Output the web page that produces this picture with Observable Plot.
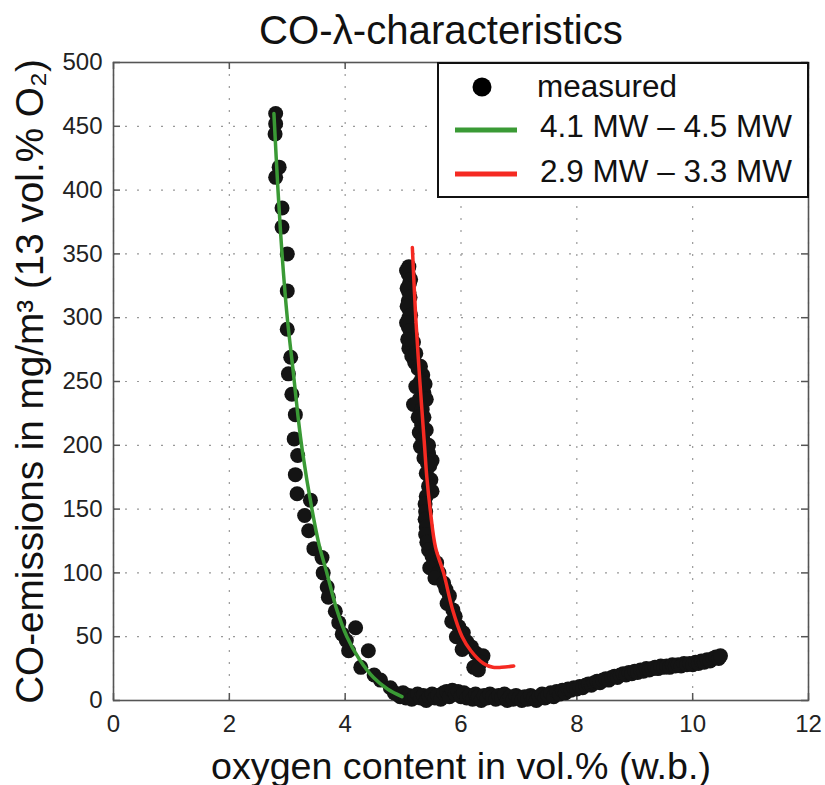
<!DOCTYPE html>
<html>
<head>
<meta charset="utf-8">
<script src="https://cdn.jsdelivr.net/npm/d3@7"></script>
<script src="https://cdn.jsdelivr.net/npm/@observablehq/plot@0.6"></script>
<style>
  html, body { margin: 0; padding: 0; background: #fff; }
  #chart { width: 825px; height: 785px; }
  svg { font-family: "Liberation Sans", Arial, sans-serif; }
</style>
</head>
<body>
<div id="chart"></div>
<script>
// ---- data ----
const xTicks = [0, 2, 4, 6, 8, 10, 12];
const yTicks = [0, 50, 100, 150, 200, 250, 300, 350, 400, 450, 500];

const titleText = "CO-\u03bb-characteristics";
const xLabel = "oxygen content in vol.% (w.b.)";
const yLabel = "CO-emissions in mg/m\u00b3 (13 vol.% O\u2082)";
const seriesNames = ["measured", "4.1 MW \u2013 4.5 MW", "2.9 MW \u2013 3.3 MW"];

// measured points (left branch, bottom band, rising tail, right branch)
const measuredX = [
  2.80, 2.80, 2.79, 2.86, 2.80, 2.91, 2.91, 3.00, 3.00, 3.00, 3.06, 3.02, 3.08, 3.14, 3.12, 3.18, 3.14, 3.17,
  3.40, 3.30, 3.37, 3.46, 3.60, 3.62, 3.69, 3.71, 3.83, 3.89, 4.18, 3.95, 4.02, 4.06, 4.40, 4.27, 4.50, 4.61, 4.78, 4.85,
  4.90, 4.95, 5.00, 5.05, 5.10, 5.15, 5.20, 5.25, 5.30, 5.35, 5.40, 5.45, 5.50, 5.55, 5.60, 5.65, 5.70, 5.75,
  5.80, 5.85, 5.90, 5.95, 6.00, 6.05, 6.10, 6.15, 6.20, 6.25, 6.30, 6.35, 6.40, 6.45, 6.50, 6.55, 6.60, 6.65,
  6.70, 6.75, 6.80, 6.85, 6.90, 6.95, 7.00, 7.05, 7.10, 7.15, 7.20, 7.25, 7.30, 7.35, 7.40, 7.45, 7.50, 7.55,
  7.60, 7.65, 7.70, 7.75, 7.80, 7.85, 7.90, 7.95, 8.00, 8.05, 8.10, 8.15, 8.20, 8.25, 8.30, 8.35, 8.40, 8.45,
  8.50, 8.55, 8.60, 8.65, 8.70, 8.75, 8.80, 8.85, 8.90, 8.95, 9.00, 9.05, 9.10, 9.15, 9.20, 9.25, 9.30, 9.35,
  9.40, 9.45, 9.50, 9.55, 9.60, 9.65, 9.70, 9.75, 9.80, 9.85, 9.90, 9.95, 10.00, 10.05, 10.10, 10.15, 10.20,
  10.25, 10.30, 10.35, 10.40, 10.45, 10.48,
  5.10, 5.09, 5.11, 5.10, 5.09, 5.11, 5.10, 5.09, 5.14, 5.18, 5.10, 5.15, 5.20, 5.26, 5.34, 5.30, 5.22, 5.36,
  5.28, 5.18, 5.33, 5.26, 5.32, 5.28, 5.34, 5.30, 5.44, 5.36, 5.46, 5.40, 5.48, 5.44, 5.50, 5.40, 5.38, 5.39,
  5.38, 5.40, 5.39, 5.41, 5.44, 5.50, 5.58, 5.46, 5.62, 5.55, 5.70, 5.74, 5.80, 5.76, 5.86, 5.90, 5.84, 5.96,
  6.04, 5.92, 6.10, 6.18, 6.02, 6.26, 6.38, 6.34, 6.22, 6.30,
  5.06, 5.13, 5.07, 5.12, 5.07, 5.13, 5.06, 5.12, 5.08, 5.22, 5.30, 5.38, 5.40, 5.36, 5.40, 5.44, 5.50, 5.42
];
const measuredY = [
  460, 452, 444, 418, 410, 386, 371, 350, 321, 291, 269, 256, 240, 224, 205, 192, 177, 162,
  157, 145, 133, 119, 112, 100, 89, 81, 70, 61, 57, 52, 47, 39, 39, 26, 20, 16, 10, 6,
  5, 3, 6, 2, 4, 1, 3, 5, 2, 4, 0, 3, 5, 2, 4, 1, 6, 7,
  3, 8, 5, 7, 3, 6, 2, 4, 1, 5, 3, 0, 4, 2, 5, 3, 1, 4,
  2, 5, 0, 3, 1, 4, 2, 0, 3, 1, 4, 2, 0, 3, 5, 2, 4, 6,
  3, 7, 5, 8, 6, 9, 8, 10, 9, 11, 10, 12, 13, 12, 14, 15, 14, 16,
  17, 16, 18, 19, 18, 20, 21, 20, 22, 21, 23, 22, 24, 23, 25, 24, 25, 26,
  25, 27, 26, 27, 26, 28, 27, 28, 27, 29, 28, 29, 28, 30, 29, 31, 30,
  32, 31, 33, 34, 33, 35,
  340, 334, 327, 320, 313, 306, 300, 293, 287, 281, 276, 270, 265, 260, 255, 250, 246, 241,
  236, 232, 228, 222, 216, 210, 205, 199, 194, 190, 184, 178, 173, 168, 164, 160, 154, 148,
  142, 136, 130, 124, 118, 113, 108, 104, 100, 96, 92, 87, 82, 76, 71, 66, 62, 58,
  53, 50, 46, 42, 40, 37, 35, 30, 26, 24,
  337, 330, 323, 316, 309, 302, 296, 290, 283, 272, 262, 248, 236, 222, 212, 200, 188, 186
];

// fitted curve 4.1 MW - 4.5 MW (green)
const greenX = [2.77, 2.84, 2.91, 3.00, 3.10, 3.18, 3.26, 3.43, 3.55, 3.69, 3.85, 4.03, 4.25, 4.49, 4.73, 4.98];
const greenY = [460, 400, 350, 300, 259, 225, 196, 149, 122, 99, 72, 50, 32, 18, 9, 3];

// fitted curve 2.9 MW - 3.3 MW (red)
const redX = [5.16, 5.22, 5.29, 5.37, 5.41, 5.47, 5.56, 5.70, 5.85, 6.02, 6.17, 6.39, 6.55, 6.70, 6.91];
const redY = [355, 299, 250, 200, 175, 149, 120, 100, 72, 50, 39, 29, 26, 26, 27];

// ---- build tables ----
const measured = measuredX.map((x, i) => ({x, y: measuredY[i]}));
const green = greenX.map((x, i) => ({x, y: greenY[i]}));
const red = redX.map((x, i) => ({x, y: redY[i]}));

const W = 825, H = 785;
const mL = 113, mR = 17, mT = 62, mB = 85;
const innerW = W - mL - mR, innerH = H - mT - mB;

const greenColor = "#3a9a35";
const redColor = "#f52a22";

const plot = Plot.plot({
  width: W,
  height: H,
  marginLeft: mL,
  marginRight: mR,
  marginTop: mT,
  marginBottom: mB,
  style: {fontFamily: '"Liberation Sans", Arial, sans-serif', background: "#fff"},
  x: {domain: [0, 12]},
  y: {domain: [0, 500]},
  marks: [
    Plot.gridX(xTicks, {stroke: "#999", strokeOpacity: 1, strokeDasharray: "2,10", strokeWidth: 1.2}),
    Plot.gridY(yTicks, {stroke: "#999", strokeOpacity: 1, strokeDasharray: "2,10", strokeWidth: 1.2}),
    // inward ticks on all four sides
    Plot.tickX(xTicks, {x: d => d, insetTop: innerH - 7, stroke: "#555", strokeWidth: 1.5}),
    Plot.tickX(xTicks, {x: d => d, insetBottom: innerH - 7, stroke: "#555", strokeWidth: 1.5}),
    Plot.tickY(yTicks, {y: d => d, insetRight: innerW - 7, stroke: "#555", strokeWidth: 1.5}),
    Plot.tickY(yTicks, {y: d => d, insetLeft: innerW - 7, stroke: "#555", strokeWidth: 1.5}),
    Plot.frame({stroke: "#555", strokeWidth: 1.6}),
    Plot.axisX({ticks: xTicks, tickSize: 0, tickPadding: 14, fontSize: 24, fill: "#222", label: null}),
    Plot.axisY({ticks: yTicks, tickSize: 0, tickPadding: 11, fontSize: 24, fill: "#222", label: null}),
    Plot.dot(measured, {x: "x", y: "y", r: 7.5, fill: "#141414", stroke: "none"}),
    Plot.line(green, {x: "x", y: "y", stroke: greenColor, strokeWidth: 3.5, curve: "catmull-rom"}),
    Plot.line(red, {x: "x", y: "y", stroke: redColor, strokeWidth: 3.5, curve: "catmull-rom"}),
    Plot.text([titleText], {frameAnchor: "top", dx: -20, dy: -19, lineAnchor: "bottom", textAnchor: "middle", fontSize: 40, fill: "#111", className: "t-title"}),
    Plot.text([xLabel], {frameAnchor: "bottom", dy: 78, lineAnchor: "bottom", textAnchor: "middle", fontSize: 37, fill: "#111", className: "t-xlab"}),
    Plot.text([yLabel], {frameAnchor: "left", dx: -71, rotate: -90, lineAnchor: "bottom", textAnchor: "middle", fontSize: 31, fill: "#111", className: "t-ylab"})
  ]
});

document.getElementById("chart").appendChild(plot);

// fit text sizes to the reference's text extents
function fitText(sel, target) {
  const node = d3.select(plot).select(sel).node();
  if (!node) return;
  const fs = parseFloat(getComputedStyle(node).fontSize) || 30;
  const len = node.getComputedTextLength();
  if (len > 0) d3.select(node).attr("font-size", (fs * target / len).toFixed(2));
}
fitText(".t-title text", 364);
fitText(".t-xlab text", 500);
fitText(".t-ylab text", 645);

// ---- legend box ----
const svg = d3.select(plot);
const lg = svg.append("g").attr("font-family", '"Liberation Sans", Arial, sans-serif').attr("text-anchor", "start");
lg.append("rect").attr("x", 438).attr("y", 63).attr("width", 370).attr("height", 134)
  .attr("fill", "#fff").attr("stroke", "#111").attr("stroke-width", 2);
lg.append("circle").attr("cx", 482).attr("cy", 87).attr("r", 9.5).attr("fill", "#000");
lg.append("line").attr("x1", 455).attr("x2", 517).attr("y1", 130).attr("y2", 130)
  .attr("stroke", greenColor).attr("stroke-width", 5);
lg.append("line").attr("x1", 455).attr("x2", 517).attr("y1", 174).attr("y2", 174)
  .attr("stroke", redColor).attr("stroke-width", 5);
const baselines = [97, 137, 182];
const legendWidths = [140, 252, 252];
seriesNames.forEach((t, i) => {
  const el = lg.append("text").attr("x", i === 0 ? 537 : 540).attr("y", baselines[i])
    .attr("font-size", 31).attr("fill", "#111").attr("text-anchor", "start").text(t);
  const len = el.node().getComputedTextLength();
  if (len > 0) el.attr("font-size", (31 * legendWidths[i] / len).toFixed(2));
});
</script>
</body>
</html>
